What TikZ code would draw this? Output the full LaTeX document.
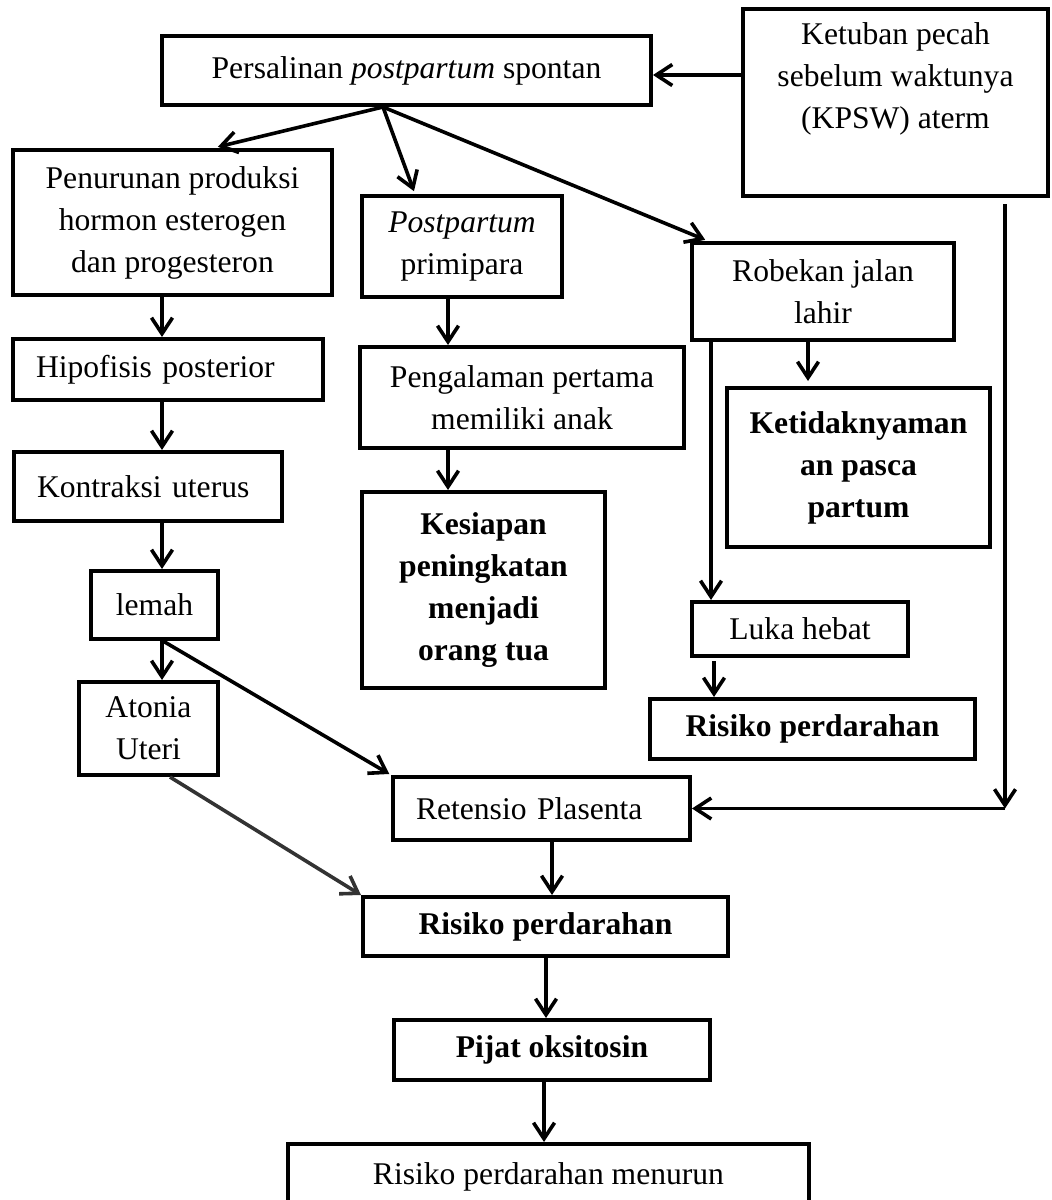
\documentclass[tikz,border=0pt]{standalone}
\usepackage{fontspec}
\setmainfont{Liberation Serif}
\usetikzlibrary{arrows.meta}

\begin{document}
\begin{tikzpicture}[x=1pt,y=-1pt,
    box/.style={draw,line width=2pt,inner sep=0pt,align=center,
                font=\fontsize{15.8}{21}\selectfont},
    boldbox/.style={box,font=\fontsize{15.8}{21}\selectfont\bfseries},
    leftbox/.style={box,align=left,inner xsep=11.5pt},
    arr/.style={line width=1.8pt,
                -{Straight Barb[length=8pt,width=10.5pt,line width=1.8pt]}}]
\useasboundingbox (0,0) rectangle (526,600);

\path
    (203.25, 35.25) node [box,minimum width=244.5pt,minimum height=34.5pt] (persalinan) {Persalinan \textit{postpartum} spontan}
    (447.75, 51.25) node [box,minimum width=152.5pt,minimum height=93.5pt] (kpsw)       {Ketuban pecah\\sebelum waktunya\\(KPSW) aterm\\ \strut}
    ( 86.25,111.25) node [box,minimum width=159.5pt,minimum height=72.5pt] (hormon)     {Penurunan produksi\\hormon esterogen\\dan progesteron}
    (231   ,123.25) node [box,minimum width=100pt,  minimum height=50.5pt] (primi)      {\textit{Postpartum}\\primipara}
    (411.5 ,145.75) node [box,minimum width=131pt,  minimum height=48.5pt] (robekan)    {Robekan jalan\\lahir}
    ( 84   ,184.75) node [leftbox,text width=132pt,minimum width=155pt,minimum height=30.5pt] (hipofisis) {Hipofisis posterior}
    (261   ,198.75) node [box,minimum width=162pt,  minimum height=50.5pt] (pengalaman) {Pengalaman pertama\\memiliki anak}
    (429.25,233.75) node [boldbox,minimum width=131.5pt,minimum height=79.5pt] (ketidak) {Ketidaknyaman\\an pasca\\partum}
    ( 74   ,243.25) node [leftbox,text width=111pt,minimum width=134pt,minimum height=34.5pt] (kontraksi) {Kontraksi uterus}
    (241.75,295   ) node [boldbox,minimum width=121.5pt,minimum height=98pt] (kesiapan)  {Kesiapan\\peningkatan\\menjadi\\orang tua}
    ( 77.25,302.5 ) node [box,minimum width=63.5pt, minimum height=34pt]   (lemah)      {lemah}
    (400   ,314.5 ) node [box,minimum width=108pt,  minimum height=27pt]   (luka)       {Luka hebat}
    ( 74.25,364.25) node [box,minimum width=69.5pt, minimum height=46.5pt] (atonia)     {Atonia\\Uteri}
    (406.25,364.5 ) node [boldbox,minimum width=162.5pt,minimum height=30pt] (risikoa)  {Risiko perdarahan}
    (270.75,404.25) node [leftbox,text width=125.5pt,minimum width=148.5pt,minimum height=31.5pt] (retensio) {Retensio Plasenta}
    (272.75,463.25) node [boldbox,minimum width=182.5pt,minimum height=29.5pt] (risikob) {Risiko perdarahan}
    (276   ,525   ) node [boldbox,minimum width=158pt,minimum height=30pt]   (pijat)    {Pijat oksitosin}
    (274.25,588.5 ) node [box,minimum width=260.5pt,minimum height=33pt]   (turun)      {Risiko perdarahan menurun};

\draw[arr] (kpsw.west |- 0,37.5) -- (persalinan.east |- 0,37.5);
\draw[arr,shorten >=2.5pt] (persalinan.south -| 191.5,0) -- (hormon.north -| 106.5,0);
\draw[arr,shorten >=1.5pt] (persalinan.south -| 191.5,0) -- (primi.north -| 207.5,0);
\draw[arr,shorten >=1.5pt] (persalinan.south -| 191.5,0) -- (robekan.north -| 354,0);

\draw[arr] (hormon.south    -| 81,0) -- (hipofisis.north -| 81,0);
\draw[arr] (hipofisis.south -| 81,0) -- (kontraksi.north -| 81,0);
\draw[arr] (kontraksi.south -| 81,0) -- (lemah.north     -| 81,0);
\draw[arr] (lemah.south     -| 81,0) -- (atonia.north    -| 81,0);
\draw[arr,shorten >=1pt] (lemah.south -| 81.5,0) -- (retensio.north west);
\draw[arr,black!80] (atonia.south -| 85,0) -- (risikob.north west);

\draw[arr] (primi.south      -| 224,0) -- (pengalaman.north -| 224,0);
\draw[arr] (pengalaman.south -| 224,0) -- (kesiapan.north   -| 224,0);

\draw[arr,shorten >=2.5pt] (robekan.south -| 404,0) -- (ketidak.north -| 404,0);
\draw[arr] (robekan.south -| 355.5,0) -- (luka.north -| 355.5,0);
\draw[arr,shorten <=1.5pt] (luka.south -| 357,0) -- (risikoa.north -| 357,0);

\coordinate (belok) at (retensio.east -| 502.5,0);
\draw[arr,shorten <=3pt] (kpsw.south -| belok) -- (belok);
\draw[arr] (belok) -- (retensio.east);

\draw[arr] (retensio.south -| 276,0) -- (risikob.north -| 276,0);
\draw[arr] (risikob.south  -| 273,0) -- (pijat.north   -| 273,0);
\draw[arr] (pijat.south    -| 272,0) -- (turun.north   -| 272,0);
\end{tikzpicture}
\end{document}
